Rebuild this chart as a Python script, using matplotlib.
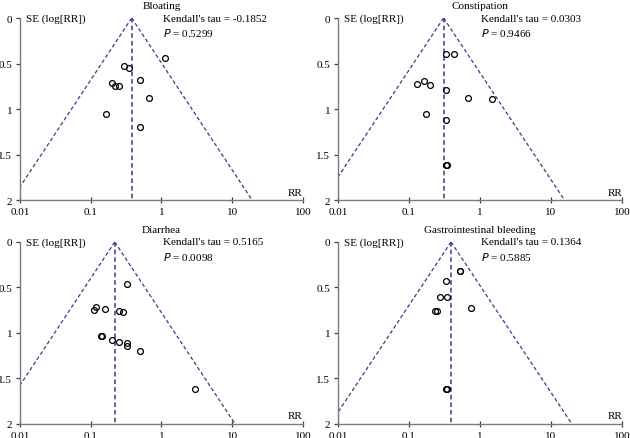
import numpy as np
import matplotlib
matplotlib.use("Agg")
import matplotlib.pyplot as plt

plt.rcParams['font.family'] = ['Liberation Serif', 'DejaVu Serif']
plt.rcParams['font.size'] = 8

titles = ["Bloating", "Constipation", "Diarrhea", "Gastrointestinal bleeding"]
taus = ["-0.1852", "0.0303", "0.5165", "0.1364"]
pvals = ["0.5299", "0.9466", "0.0098", "0.5885"]
pooled_rr = [0.38, 0.307, 0.219, 0.391]

bloating_rr = [1.11, 0.294, 0.346, 0.50, 0.199, 0.222, 0.25, 0.67, 0.164, 0.50]
bloating_se = [0.44, 0.53, 0.55, 0.68, 0.71, 0.746, 0.746, 0.875, 1.06, 1.20]

constipation_rr = [0.336, 0.426, 0.130, 0.164, 0.200, 0.336, 0.67, 1.49, 0.175, 0.336, 0.336, 0.338]
constipation_se = [0.39, 0.40, 0.72, 0.69, 0.735, 0.79, 0.88, 0.886, 1.06, 1.12, 1.61, 1.615]

diarrhea_rr = [0.324, 0.117, 0.110, 0.160, 0.25, 0.284, 0.142, 0.143, 0.199, 0.25, 0.331, 0.331, 0.494, 3.02]
diarrhea_se = [0.467, 0.713, 0.75, 0.735, 0.754, 0.765, 1.03, 1.036, 1.077, 1.096, 1.11, 1.143, 1.195, 1.61]

bleeding_rr = [0.517, 0.52, 0.336, 0.270, 0.34, 0.755, 0.23, 0.245, 0.336, 0.338]
bleeding_se = [0.316, 0.32, 0.43, 0.607, 0.603, 0.724, 0.754, 0.76, 1.61, 1.615]

all_rr = [bloating_rr, constipation_rr, diarrhea_rr, bleeding_rr]
all_se = [bloating_se, constipation_se, diarrhea_se, bleeding_se]

fig = plt.figure(figsize=(6.3, 4.39), dpi=100)
positions = [
    [0.0317, 0.5421, 0.449, 0.4146],
    [0.5365, 0.5421, 0.4508, 0.4146],
    [0.0317, 0.0319, 0.449, 0.4146],
    [0.5365, 0.0319, 0.4508, 0.4146],
]
line_col = "#3b3b8a"
spine_col = "#7a7a7a"

for i in range(4):
    ax = fig.add_axes(positions[i])
    ax.set_xscale("log")
    ax.set_xlim(0.01, 100)
    ax.set_ylim(2, 0)

    c = pooled_rr[i]
    se_line = np.array([0, 2.0])
    ax.plot(c * np.exp(-1.96 * se_line), se_line, ls=(0, (3, 2)), color=line_col, lw=0.9)
    ax.plot(c * np.exp(1.96 * se_line), se_line, ls=(0, (3, 2)), color=line_col, lw=0.9)
    ax.plot([c, c], [0, 2], ls=(0, (3, 2)), color=line_col, lw=1.1)

    ax.plot(all_rr[i], all_se[i], "o", mfc="none", mec="black", ms=4.2, mew=0.9)

    ax.spines["top"].set_visible(False)
    ax.spines["right"].set_visible(False)
    ax.spines["left"].set_color(spine_col)
    ax.spines["bottom"].set_color(spine_col)
    ax.spines["left"].set_linewidth(1.0)
    ax.spines["bottom"].set_linewidth(1.0)
    ax.set_xticks([0.01, 0.1, 1, 10, 100])
    ax.set_xticklabels(["0.01", "0.1", "1", "10", "100"])
    ax.minorticks_off()
    ax.set_yticks([0, 0.5, 1, 1.5, 2])
    ax.set_yticklabels(["0", "0.5", "1", "1.5", "2"])
    ax.tick_params(axis="x", direction="inout", length=4, width=0.9, color="#404040", labelsize=8, pad=3)
    ax.tick_params(axis="y", direction="out", length=3, width=0.9, color="#404040", labelsize=8, pad=2.5)

    ax.set_title(titles[i], fontsize=8, pad=7)
    ax.text(0.02, 1.0, "SE (log[RR])", transform=ax.transAxes, ha="left", va="center", fontsize=8)
    ax.text(1.0, 0.044, "RR", transform=ax.transAxes, ha="right", va="center", fontsize=8)
    ax.text(0.505, 1.0, "Kendall's tau = " + taus[i], transform=ax.transAxes, ha="left", va="center", fontsize=8)
    ax.text(0.505, 0.923, "$P$ = " + pvals[i], transform=ax.transAxes, ha="left", va="center", fontsize=8)

plt.savefig("out.png", dpi=100)
